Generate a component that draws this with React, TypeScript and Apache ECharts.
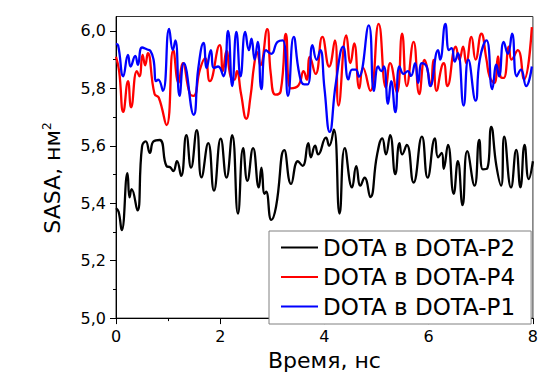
import React, { useEffect, useRef } from "react";
import * as echarts from "echarts";

// DOTA в DOTA-P2 (black)
const timeP2 = [0.00, 0.05, 0.11, 0.22, 0.26, 0.30, 0.41, 0.50, 0.57, 0.65, 0.72, 0.84, 0.97, 1.04, 1.10, 1.17, 1.25, 1.35, 1.44, 1.55, 1.64, 1.77, 1.88, 2.01, 2.12, 2.23, 2.34, 2.44, 2.52, 2.63, 2.74, 2.79, 2.85, 2.88, 2.98, 3.07, 3.23, 3.36, 3.49, 3.58, 3.69, 3.74, 3.82, 3.88, 4.03, 4.09, 4.18, 4.29, 4.39, 4.53, 4.61, 4.69, 4.77, 4.88, 5.01, 5.11, 5.18, 5.26, 5.36, 5.44, 5.49, 5.58, 5.71, 5.87, 5.98, 6.12, 6.18, 6.25, 6.29, 6.37, 6.48, 6.56, 6.65, 6.74, 6.88, 6.97, 7.04, 7.12, 7.20, 7.30, 7.39, 7.45, 7.58, 7.68, 7.76, 7.84, 7.92, 8.00];
const sasaP2 = [5.383, 5.37, 5.306, 5.505, 5.42, 5.449, 5.375, 5.598, 5.615, 5.575, 5.615, 5.62, 5.529, 5.525, 5.512, 5.546, 5.495, 5.637, 5.524, 5.654, 5.49, 5.609, 5.444, 5.625, 5.489, 5.637, 5.364, 5.592, 5.478, 5.592, 5.455, 5.524, 5.433, 5.44, 5.342, 5.387, 5.585, 5.467, 5.546, 5.53, 5.609, 5.56, 5.6, 5.57, 5.628, 5.6, 5.656, 5.364, 5.592, 5.455, 5.529, 5.461, 5.489, 5.421, 5.569, 5.626, 5.57, 5.637, 5.501, 5.609, 5.57, 5.603, 5.472, 5.632, 5.489, 5.626, 5.56, 5.575, 5.52, 5.603, 5.433, 5.546, 5.393, 5.581, 5.461, 5.62, 5.518, 5.52, 5.666, 5.529, 5.461, 5.632, 5.455, 5.586, 5.455, 5.603, 5.484, 5.546];

// DOTA в DOTA-P4 (red)
const timeP4 = [0.00, 0.06, 0.14, 0.23, 0.29, 0.40, 0.45, 0.51, 0.56, 0.61, 0.74, 0.82, 0.97, 1.10, 1.20, 1.28, 1.42, 1.49, 1.61, 1.71, 1.80, 1.99, 2.05, 2.12, 2.20, 2.27, 2.32, 2.40, 2.50, 2.58, 2.65, 2.71, 2.77, 2.90, 2.97, 3.06, 3.16, 3.26, 3.35, 3.50, 3.60, 3.66, 3.72, 3.83, 3.96, 4.09, 4.20, 4.27, 4.42, 4.50, 4.57, 4.67, 4.74, 4.88, 5.04, 5.18, 5.26, 5.39, 5.49, 5.58, 5.71, 5.82, 5.92, 5.96, 6.04, 6.09, 6.15, 6.25, 6.29, 6.36, 6.52, 6.59, 6.66, 6.72, 6.82, 6.90, 7.01, 7.11, 7.17, 7.26, 7.33, 7.38, 7.44, 7.54, 7.59, 7.71, 7.83, 7.98];
const sasaP4 = [5.91, 5.86, 5.718, 5.825, 5.734, 5.86, 5.842, 5.916, 5.88, 5.922, 5.78, 5.768, 5.672, 5.933, 5.819, 5.888, 5.78, 5.774, 5.865, 5.905, 5.825, 5.95, 5.86, 5.93, 5.84, 5.83, 5.86, 5.78, 5.694, 5.77, 5.88, 5.926, 5.88, 6.006, 5.85, 5.778, 5.79, 5.989, 5.8, 5.81, 5.86, 5.83, 5.909, 5.85, 5.979, 5.876, 5.967, 5.74, 5.984, 5.888, 5.956, 5.8, 5.871, 5.791, 6.024, 5.802, 5.888, 5.785, 5.99, 5.808, 5.962, 5.78, 5.899, 5.88, 5.808, 5.899, 5.791, 5.876, 5.888, 5.808, 5.945, 5.9, 5.945, 5.888, 5.979, 5.9, 5.99, 5.899, 5.84, 5.819, 5.911, 5.84, 5.836, 5.945, 5.9, 5.933, 5.831, 6.013];

// DOTA в DOTA-P1 (blue)
const timeP1 = [0.00, 0.04, 0.14, 0.23, 0.28, 0.37, 0.42, 0.50, 0.60, 0.66, 0.72, 0.77, 0.81, 0.90, 1.02, 1.09, 1.14, 1.22, 1.30, 1.49, 1.58, 1.68, 1.74, 1.82, 1.88, 1.96, 2.06, 2.15, 2.23, 2.31, 2.39, 2.48, 2.55, 2.60, 2.66, 2.72, 2.79, 2.88, 2.98, 3.10, 3.20, 3.30, 3.41, 3.52, 3.61, 3.68, 3.77, 3.85, 3.92, 4.00, 4.10, 4.22, 4.36, 4.46, 4.53, 4.60, 4.66, 4.85, 4.95, 5.03, 5.09, 5.14, 5.22, 5.28, 5.36, 5.44, 5.52, 5.60, 5.66, 5.74, 5.80, 5.87, 5.96, 6.03, 6.18, 6.22, 6.32, 6.39, 6.44, 6.50, 6.56, 6.67, 6.76, 6.90, 6.98, 7.11, 7.22, 7.30, 7.35, 7.44, 7.52, 7.60, 7.69, 7.77, 7.87, 7.98];
const sasaP1 = [5.955, 5.95, 5.842, 5.916, 5.876, 5.913, 5.882, 5.942, 5.935, 5.93, 5.9, 5.825, 5.83, 5.791, 6.007, 5.933, 5.967, 5.774, 5.888, 5.708, 5.871, 5.958, 5.871, 5.933, 5.871, 5.876, 5.842, 6.0, 5.808, 5.996, 5.842, 5.996, 5.933, 5.973, 5.9, 5.962, 5.797, 5.933, 5.92, 5.962, 5.967, 5.774, 5.979, 5.848, 5.814, 5.814, 5.95, 5.899, 5.933, 5.8, 5.648, 5.82, 5.945, 5.831, 5.865, 5.865, 5.84, 6.019, 5.791, 5.876, 5.86, 5.876, 5.746, 5.825, 5.717, 5.876, 5.85, 5.86, 5.843, 5.888, 5.819, 5.888, 5.876, 5.808, 5.933, 5.9, 6.024, 5.933, 5.94, 5.893, 5.922, 5.74, 5.9, 5.757, 5.9, 5.967, 5.797, 5.882, 5.842, 5.962, 5.92, 5.99, 5.842, 5.865, 5.808, 5.876];

const seriesNames = ["DOTA в DOTA-P2", "DOTA в DOTA-P4", "DOTA в DOTA-P1"];
const seriesColors = ["#000000", "#ff0000", "#0000ff"];
const yMajorTicks = [5.0, 5.2, 5.4, 5.6, 5.8, 6.0];
const yMinorTicks = [5.1, 5.3, 5.5, 5.7, 5.9];
const xTitle = "Время, нс";

const FONT = "DejaVu Sans";

function pairs(t: number[], v: number[]) {
  return t.map((x, i) => [x, v[i]]);
}

export default function App() {
  const ref = useRef<HTMLDivElement>(null);
  useEffect(() => {
    if (!ref.current) return;
    const chart = echarts.init(ref.current, null, { renderer: "svg" });
    const grid = { left: 116, right: 5, top: 16.5, bottom: 51 };
    const yCommon = {
      type: "value",
      min: 5.0,
      max: 6.05,
      interval: 0.2,
      splitLine: { show: false },
    };
    const data = [pairs(timeP2, sasaP2), pairs(timeP4, sasaP4), pairs(timeP1, sasaP1)];
    chart.setOption({
      animation: false,
      backgroundColor: "#ffffff",
      grid: { ...grid, show: true, borderColor: "#333", borderWidth: 1 },
      xAxis: {
        type: "value",
        min: 0,
        max: 8,
        interval: 2,
        name: xTitle,
        nameLocation: "middle",
        nameGap: 30,
        nameTextStyle: { fontFamily: FONT, fontSize: 22, color: "#000" },
        axisLine: { show: true, lineStyle: { color: "#000", width: 1 } },
        axisTick: { show: true, inside: false, length: 6, lineStyle: { color: "#000" } },
        minorTick: { show: true, splitNumber: 2, length: 3, lineStyle: { color: "#000" } },
        axisLabel: { fontFamily: FONT, fontSize: 16, color: "#000", margin: 10 },
        splitLine: { show: false },
      },
      yAxis: [
        {
          ...yCommon,
          axisLine: { show: true, lineStyle: { color: "#000", width: 1 } },
          axisTick: { show: true, inside: false, length: 6, customValues: yMajorTicks, lineStyle: { color: "#000" } },
          axisLabel: {
            fontFamily: FONT,
            fontSize: 16,
            color: "#000",
            margin: 10,
            customValues: yMajorTicks,
            formatter: (v: number) => v.toFixed(1).replace(".", ","),
          },
        },
        {
          ...yCommon,
          position: "left",
          axisLine: { show: false },
          axisTick: { show: true, inside: false, length: 3, customValues: yMinorTicks, lineStyle: { color: "#000" } },
          axisLabel: { show: false },
        },
      ],
      legend: {
        orient: "vertical",
        left: 269,
        top: 231,
        padding: [5, 16, 6, 12],
        itemWidth: 37,
        itemHeight: 2,
        itemGap: 6.5,
        icon: "rect",
        backgroundColor: "#ffffff",
        borderColor: "#808080",
        borderWidth: 1,
        borderRadius: 0,
        textStyle: { fontFamily: FONT, fontSize: 23, lineHeight: 23, color: "#000" },
        data: seriesNames,
      },
      graphic: [
        {
          type: "text",
          x: 52,
          y: 178,
          rotation: Math.PI / 2,
          style: {
            text: "{a|SASA, нм}{s|2}",
            align: "center",
            verticalAlign: "middle",
            fill: "#000",
            rich: {
              a: { fontFamily: FONT, fontSize: 22, fill: "#000" },
              s: { fontFamily: FONT, fontSize: 12, fill: "#000", verticalAlign: "top" },
            },
          },
        },
      ],
      series: seriesNames.map((name, i) => ({
        name,
        type: "line",
        data: data[i],
        yAxisIndex: 0,
        symbol: "none",
        smooth: 0.5,
        color: seriesColors[i],
        lineStyle: { color: seriesColors[i], width: 2.3 },
      })),
    });
    return () => chart.dispose();
  }, []);
  return (
    <div
      ref={ref}
      style={{ position: "fixed", left: 0, top: 0, width: 541, height: 376, background: "#fff" }}
    />
  );
}
